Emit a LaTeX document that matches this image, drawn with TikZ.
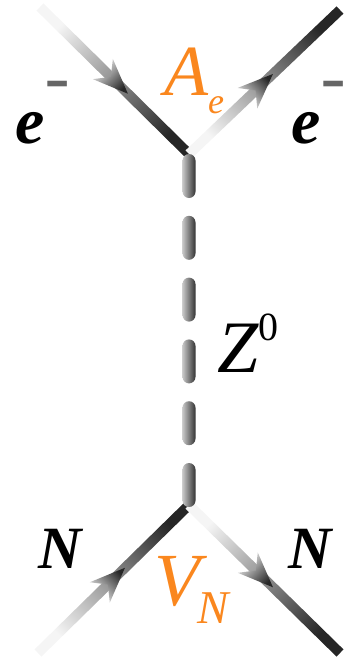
\documentclass[tikz,border=0pt]{standalone}
\usepackage{fontspec}
\setmainfont{Liberation Serif}
\usepackage{tikz}
\usetikzlibrary{calc}
\definecolor{coupcol}{RGB}{250,135,30}
\newcommand\fs[1]{\fontsize{#1}{#1}\selectfont}
\newcommand\minussup{\raisebox{33pt}{\fs{42}\color{black!60}\scalebox{1}[1.9]{−}}}
\tikzset{
  fermshade/.style={bottom color=black!4, top color=black!85},
  zdash/.style={left color=black!22, right color=black!80, rounded corners=6.5pt},
  lbl/.style={inner sep=0pt, anchor=base},
}
% fermion line with arrow: from, to, arrow position, shading angle
\newcommand\fermion[4]{%
  \shade[fermshade, shading angle=#4]
    ($(#1)!5pt!90:(#2)$) -- ($(#2)!5pt!-90:(#1)$) -- ($(#2)!5pt!90:(#1)$) -- ($(#1)!5pt!-90:(#2)$) -- cycle;
  \coordinate (tip) at ($(#1)!#3!(#2)$);
  \shade[fermshade, shading angle=#4]
    (tip) -- ($(tip)!38pt!22:(#1)$) -- ($(tip)!24pt!(#1)$) -- ($(tip)!38pt!-22:(#1)$) -- cycle;
}

\begin{document}
\begin{tikzpicture}[x=1pt, y=-1pt]
  \useasboundingbox (0,0) rectangle (352,664);

  % vertices and outer ends
  \coordinate (vtop) at (189,154);
  \coordinate (vbot) at (189,505);
  \coordinate (eIn) at (40,7);
  \coordinate (eOut) at (340,10);
  \coordinate (nIn) at (38,653);
  \coordinate (nOut) at (340,653);

  % fermions
  \fermion{eIn}{vtop}{0.59}{-134.6}
  \fermion{vtop}{eOut}{0.556}{-46.4}
  \fermion{nIn}{vbot}{0.576}{-45.6}
  \fermion{vbot}{nOut}{0.556}{-134.4}

  % Z propagator
  \foreach \i in {0,...,5}
    \shade[zdash] ($(vtop)+(-6.5,\i*61.8)$) rectangle ($(vtop)+(6.5,\i*61.8+44)$);

  % labels
  \node[lbl] (eL) at (42.5,143) {\fs{66}\bfseries\itshape e\minussup};
  \node[lbl] (eR) at (319,143) {\fs{66}\bfseries\itshape e\minussup};
  \node[lbl, text=coupcol] (ae) at (194,95) {\fs{72}\itshape A\raisebox{-18pt}{\fs{36}e}};
  \node[lbl] (zlab) at (248,372) {\fs{74}\itshape Z\raisebox{32pt}{\fs{40}\upshape 0}};
  \node[lbl] (nL) at (60,568) {\fs{60}\bfseries\itshape N};
  \node[lbl] (nR) at (310.5,568) {\fs{60}\bfseries\itshape N};
  \node[lbl, text=coupcol] (vn) at (191.5,605) {\fs{75}\itshape V\kern-3pt\raisebox{-18pt}{\fs{47}N}};
\end{tikzpicture}
\end{document}
